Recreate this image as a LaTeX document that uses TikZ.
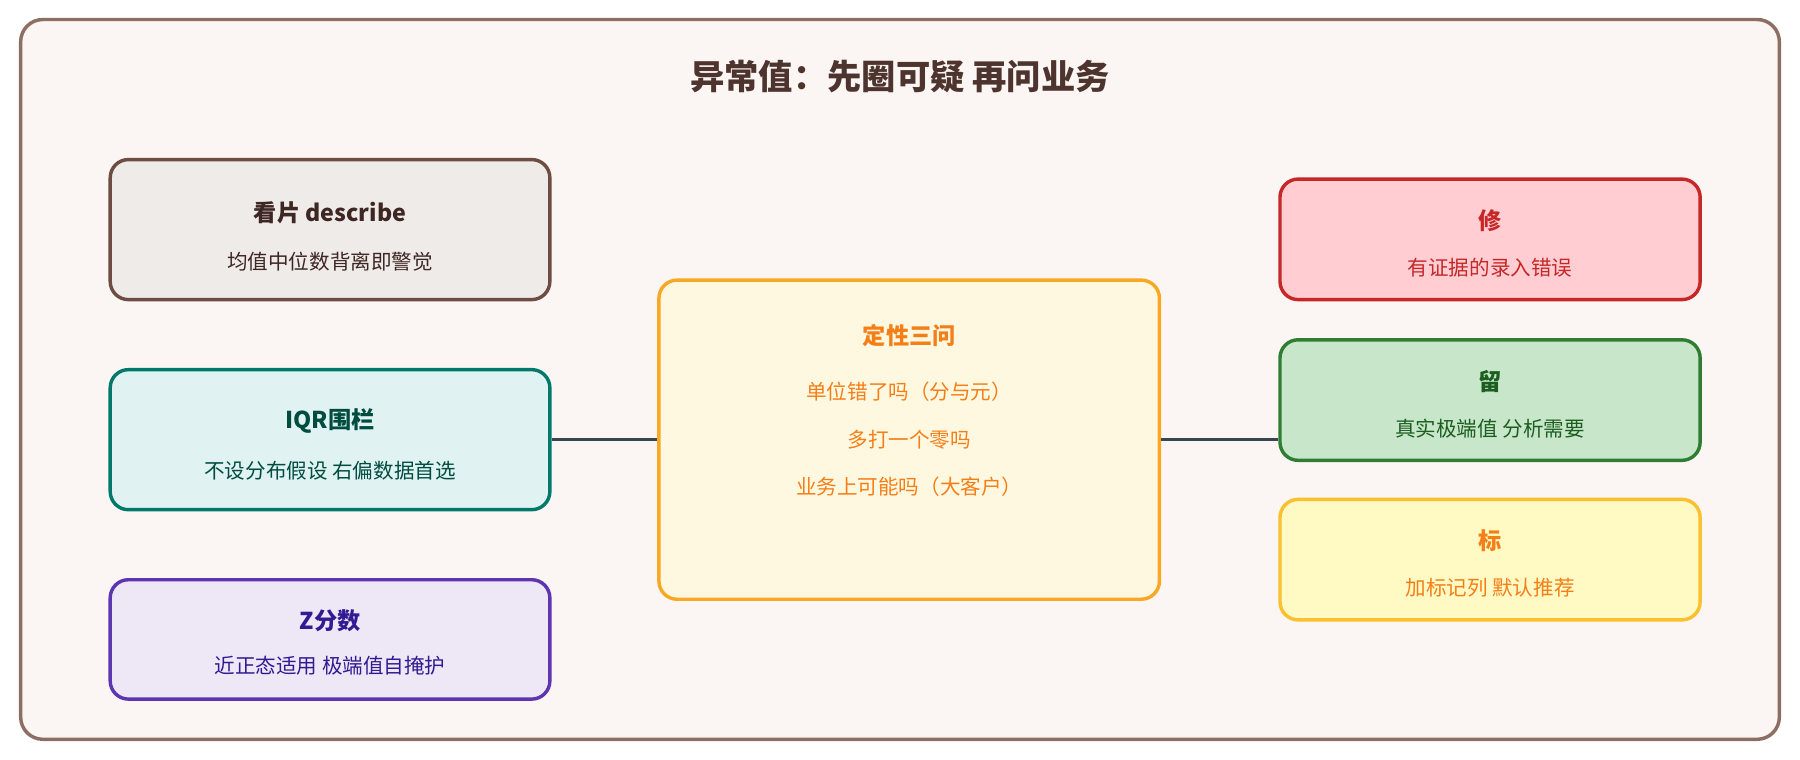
\documentclass[tikz,border=0pt]{standalone}
\usepackage{fontspec}
\setmainfont{Noto Sans CJK SC}
\begin{document}
\begin{tikzpicture}[x=0.02cm,y=-0.02cm,
 box/.style={draw,line width=1.7pt,rounded corners=9pt},
 ttl/.style={font=\fontsize{11.5}{13}\selectfont\bfseries},
 sub/.style={font=\fontsize{10.2}{12}\selectfont},
 conn/.style={draw=black!20!blue!10!gray!90!black,line width=1.7pt,color={rgb,255:red,55;green,71;blue,79}}]
\definecolor{fr}{HTML}{8D6E63}\definecolor{bg}{HTML}{FBF6F3}
\useasboundingbox (0,0) rectangle (1568,662);
\draw[fr,fill=bg,line width=1.7pt,rounded corners=11pt] (18,17) rectangle (1550,644);
\node[font=\fontsize{17}{20}\selectfont\bfseries,text={rgb,255:red,78;green,52;blue,46}] (title) at (784,67) {异常值：先圈可疑 再问业务};
% left
\node[box,draw={rgb,255:red,109;green,76;blue,65},fill={rgb,255:red,239;green,235;blue,233},minimum width=383*0.02cm,minimum height=122*0.02cm] (a) at (287.5,200) {};
\node[ttl,text={rgb,255:red,62;green,39;blue,35}] (at) at (287.5,185) {看片 describe};
\node[sub,text={rgb,255:red,62;green,39;blue,35}] (as) at (287.5,228) {均值中位数背离即警觉};
\node[box,draw={rgb,255:red,0;green,121;blue,107},fill={rgb,255:red,224;green,242;blue,241},minimum width=383*0.02cm,minimum height=122*0.02cm] (b) at (287.5,383) {};
\node[ttl,text={rgb,255:red,0;green,77;blue,64}] (bt) at (287.5,367) {IQR围栏};
\node[sub,text={rgb,255:red,0;green,77;blue,64}] (bs) at (287.5,410) {不设分布假设 右偏数据首选};
\node[box,draw={rgb,255:red,94;green,53;blue,177},fill={rgb,255:red,237;green,231;blue,246},minimum width=383*0.02cm,minimum height=104*0.02cm] (c) at (287.5,557) {};
\node[ttl,text={rgb,255:red,49;green,27;blue,146}] (ct) at (287.5,541) {Z分数};
\node[sub,text={rgb,255:red,49;green,27;blue,146}] (cs) at (287.5,580) {近正态适用 极端值自掩护};
% center
\node[box,draw={rgb,255:red,249;green,168;blue,37},fill={rgb,255:red,255;green,248;blue,225},minimum width=436*0.02cm,minimum height=278*0.02cm] (m) at (792,383) {};
\node[ttl,text={rgb,255:red,245;green,127;blue,23}] (mt) at (792,292) {定性三问};
\node[sub,text={rgb,255:red,245;green,127;blue,23}] (m1) at (792,341) {单位错了吗（分与元）};
\node[sub,text={rgb,255:red,245;green,127;blue,23}] (m2) at (792,383) {多打一个零吗};
\node[sub,text={rgb,255:red,245;green,127;blue,23}] (m3) at (792,424) {业务上可能吗（大客户）};
% right
\node[box,draw={rgb,255:red,198;green,40;blue,40},fill={rgb,255:red,255;green,205;blue,210},minimum width=366*0.02cm,minimum height=105*0.02cm] (r) at (1298,208.5) {};
\node[ttl,text={rgb,255:red,198;green,40;blue,40}] (rt) at (1298,192) {修};
\node[sub,text={rgb,255:red,198;green,40;blue,40}] (rs) at (1298,233) {有证据的录入错误};
\node[box,draw={rgb,255:red,46;green,125;blue,50},fill={rgb,255:red,200;green,230;blue,201},minimum width=366*0.02cm,minimum height=105*0.02cm] (g) at (1298,348.5) {};
\node[ttl,text={rgb,255:red,27;green,94;blue,32}] (gt) at (1298,332) {留};
\node[sub,text={rgb,255:red,27;green,94;blue,32}] (gs) at (1298,373) {真实极端值 分析需要};
\node[box,draw={rgb,255:red,251;green,192;blue,45},fill={rgb,255:red,255;green,249;blue,196},minimum width=366*0.02cm,minimum height=105*0.02cm] (y) at (1298,487.5) {};
\node[ttl,text={rgb,255:red,245;green,127;blue,23}] (yt) at (1298,471) {标};
\node[sub,text={rgb,255:red,245;green,127;blue,23}] (ys) at (1298,512) {加标记列 默认推荐};
\draw[line width=1.7pt,draw={rgb,255:red,55;green,71;blue,79}] (b.east) -- (m.west);
\draw[line width=1.7pt,draw={rgb,255:red,55;green,71;blue,79}] (m.east) -- (g.west |- m.east);
\end{tikzpicture}
\end{document}
